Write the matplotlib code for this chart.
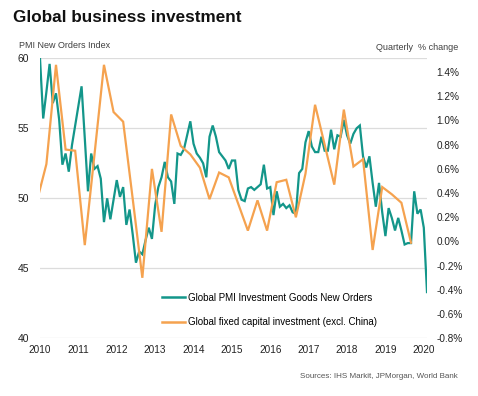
#grafica de inversion empresarial global
import matplotlib
matplotlib.use("Agg")
import matplotlib.pyplot as plt
from matplotlib.lines import Line2D

plt.rcParams['font.family'] = ['Liberation Sans', 'DejaVu Sans']

#PMI mensual, ene 2010 - feb 2020
pmi = [60.0, 55.7, 57.6, 59.6, 56.8, 57.5, 55.6, 52.4, 53.2, 51.9, 53.8, 55.2,
       56.6, 58.0, 54.3, 50.5, 53.2, 52.1, 52.3, 51.4, 48.3, 50.0, 48.5, 49.9,
       51.3, 50.1, 50.8, 48.1, 49.2, 47.4, 45.4, 46.2, 46.0, 47.0, 47.9, 47.1,
       49.5, 50.8, 51.5, 52.6, 51.5, 51.2, 49.6, 53.2, 53.1, 53.5, 54.5, 55.5,
       53.9, 53.2, 52.9, 52.5, 51.5, 54.4, 55.2, 54.4, 53.3, 53.0, 52.7, 52.1,
       52.7, 52.7, 50.6, 49.9, 49.8, 50.7, 50.8, 50.6, 50.8, 51.0, 52.4, 50.7,
       50.8, 48.8, 50.5, 49.4, 49.6, 49.3, 49.5, 49.0, 48.9, 51.8, 52.1, 54.0,
       54.8, 53.7, 53.3, 53.3, 54.4, 53.4, 53.4, 54.9, 53.5, 54.5, 54.4, 55.6,
       54.5, 53.9, 54.6, 55.0, 55.2, 53.0, 52.2, 53.0, 51.1, 49.4, 51.1, 49.0,
       47.3, 49.3, 48.6, 47.7, 48.6, 47.7, 46.7, 46.8, 46.8, 50.5, 48.9, 49.2,
       47.9, 43.3]
mes_pmi = list(range(len(pmi)))

#inversion trimestral (fin de trimestre, dic 2009 - sep 2019)
inv = [0.33, 0.64, 1.46, 0.76, 0.75, -0.03, 0.71, 1.46, 1.07, 0.99, 0.35, -0.30,
       0.60, 0.08, 1.05, 0.79, 0.72, 0.61, 0.35, 0.57, 0.53, 0.31, 0.09, 0.34,
       0.09, 0.49, 0.51, 0.20, 0.56, 1.13, 0.80, 0.47, 1.09, 0.62, 0.68, -0.07,
       0.45, 0.39, 0.32, -0.01]
mes_inv = [-1 + 3 * i for i in range(len(inv))]

anios = list(range(2010, 2021))
ticks_izq = [40, 45, 50, 55, 60]
ticks_der = [-0.8, -0.6, -0.4, -0.2, 0.0, 0.2, 0.4, 0.6, 0.8, 1.0, 1.2, 1.4]

verde = "#13968a"
naranja = "#f5a24f"
gris = "#404040"

fig = plt.figure(figsize=(4.78, 3.96), dpi=100)
ax = fig.add_axes([40/478, 1 - 338.3/396, 387/478, 280/396])
ax2 = ax.twinx()

ax.plot(mes_pmi, pmi, color=verde, linewidth=1.6, solid_joinstyle="miter")
ax2.plot(mes_inv, inv, color=naranja, linewidth=1.6, solid_joinstyle="miter")

ax.set_xlim(0, 121)
ax.set_ylim(40, 60)
ax2.set_ylim(-0.8, 1.514)

ax.set_yticks(ticks_izq)
ax.set_yticklabels([str(t) for t in ticks_izq])
ax2.set_yticks(ticks_der)
ax2.set_yticklabels(["%.1f%%" % t for t in ticks_der])
ax.set_xticks([12 * i for i in range(len(anios))])
ax.set_xticklabels([str(a) for a in anios])

for eje in (ax, ax2):
    for s in eje.spines.values():
        s.set_visible(False)
    eje.tick_params(length=0, labelsize=7.5, colors="#222222")
ax.tick_params(axis="y", pad=8)
ax.tick_params(axis="x", pad=5, labelsize=7.2)
ax2.tick_params(axis="y", pad=7, labelsize=7.2)

ax.yaxis.grid(True, color="#dcdcdc", linewidth=0.9)
ax.set_axisbelow(True)

#titulos
fig.text(13/478, 1 - 18/396, "Global business investment", fontsize=12.3,
         fontweight="bold", va="center", ha="left", color="#111111")
fig.text(19/478, 1 - 45/396, "PMI New Orders Index", fontsize=6.5,
         va="center", ha="left", color=gris)
fig.text(458/478, 1 - 47/396, "Quarterly  % change", fontsize=6.5,
         va="center", ha="right", color=gris)
fig.text(458/478, 1 - 377/396, "Sources: IHS Markit, JPMorgan, World Bank",
         fontsize=5.8, va="center", ha="right", color="#555555")

#leyenda
h = [Line2D([], [], color=verde, linewidth=1.8),
     Line2D([], [], color=naranja, linewidth=1.8)]
leg = ax.legend(h, ["Global PMI Investment Goods New Orders",
                    "Global fixed capital investment (excl. China)"],
                loc="upper left", bbox_to_anchor=(117/387, (338.3-288)/280),
                frameon=False, fontsize=7.0, handlelength=2.4,
                handletextpad=0.3, labelspacing=1.45, borderpad=0)
leg.set_zorder(5)

fig.savefig("out.png", dpi=100, facecolor="white")
